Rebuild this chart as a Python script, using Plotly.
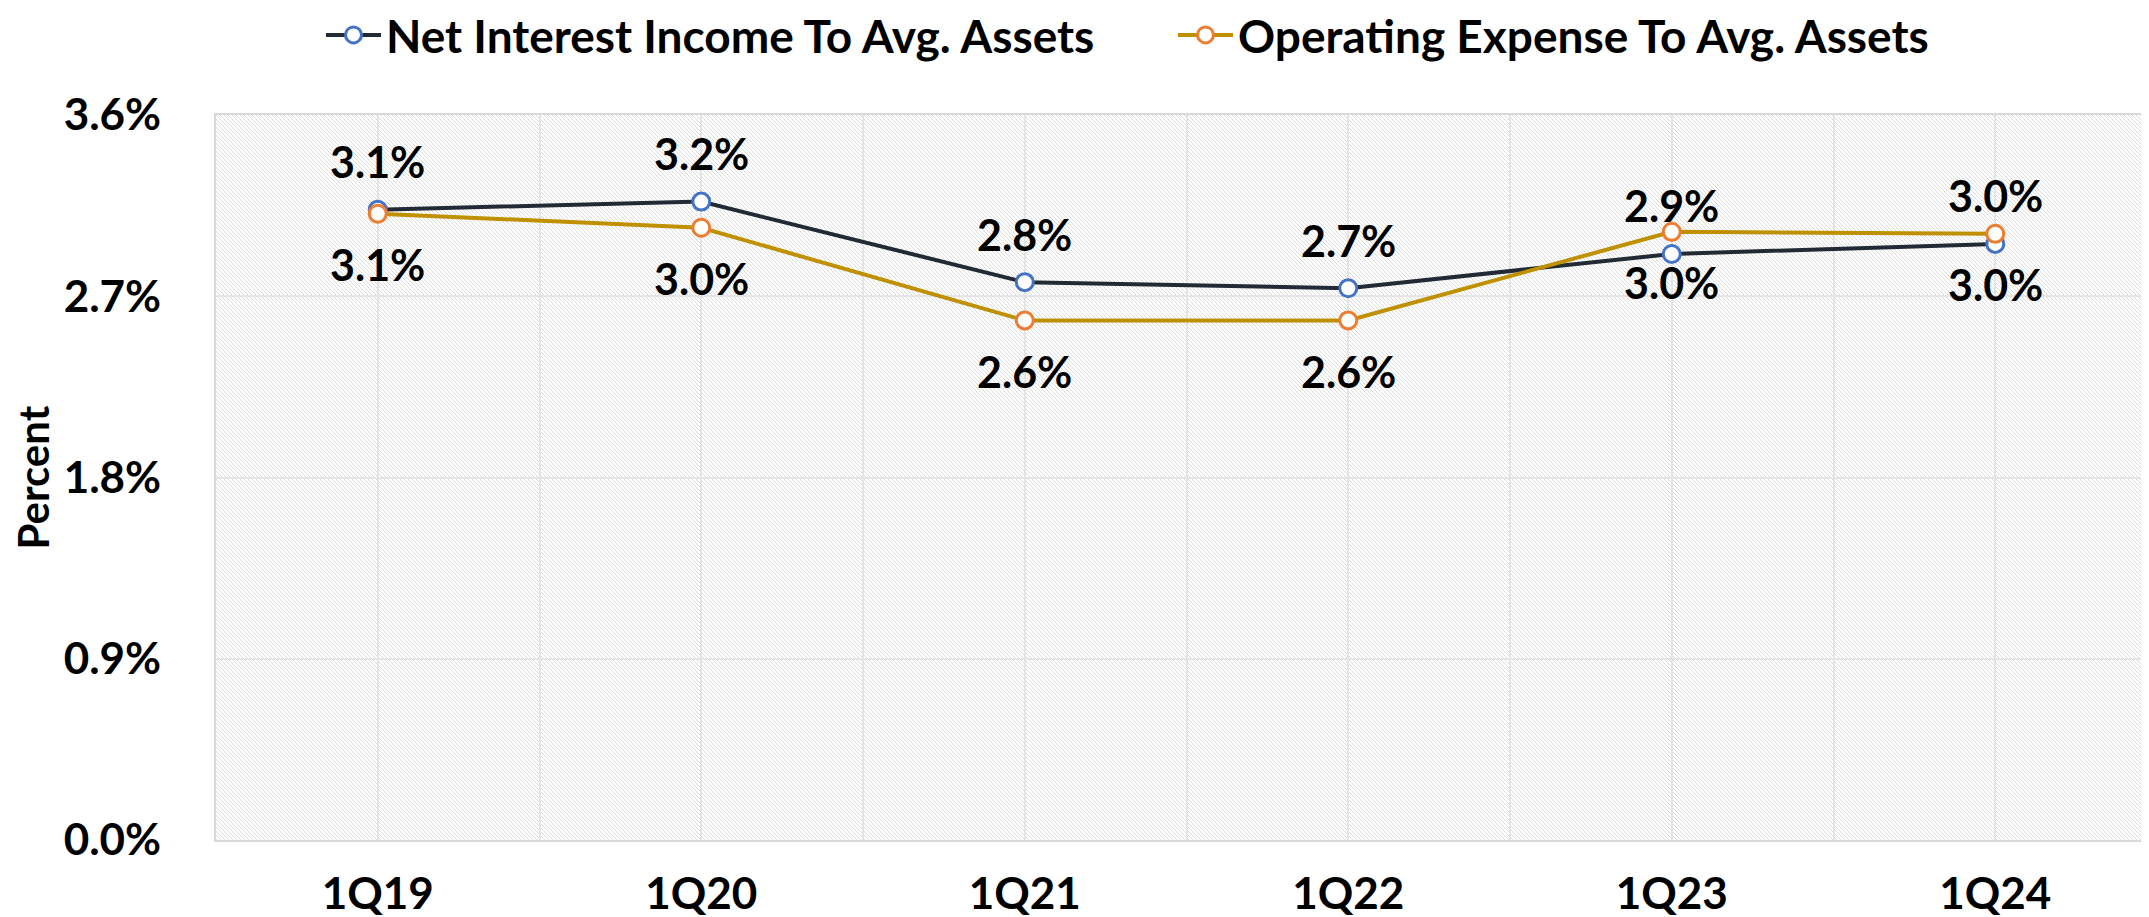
import base64
import plotly.graph_objects as go

# ---- data ----
categories = ["1Q19", "1Q20", "1Q21", "1Q22", "1Q23", "1Q24"]
net_interest_income = [3.13, 3.17, 2.77, 2.74, 2.91, 2.96]
operating_expense = [3.11, 3.04, 2.58, 2.58, 3.02, 3.01]
series_names = ["Net Interest Income To Avg. Assets", "Operating Expense To Avg. Assets"]
y_ticks = [0.0, 0.9, 1.8, 2.7, 3.6]

# ---- layout constants ----
W, H = 2149, 917
ML, MR, MT, MB = 208, 0, 107, 85
PW, PH = W - ML - MR, H - MT - MB
FONT = "Lato"
x_idx = list(range(len(categories)))

# hatch background (light downward diagonal)
HC = "#dcdcdc"
svg = (
    f'<svg xmlns="http://www.w3.org/2000/svg" width="{PW}" height="{PH}" '
    f'viewBox="0 0 {PW} {PH}" shape-rendering="crispEdges">'
    '<defs><pattern id="p" width="4" height="4" patternUnits="userSpaceOnUse">'
    f'<rect x="0" y="0" width="1" height="1" fill="{HC}"/>'
    f'<rect x="1" y="1" width="1" height="1" fill="{HC}"/>'
    f'<rect x="2" y="2" width="1" height="1" fill="{HC}"/>'
    f'<rect x="3" y="3" width="1" height="1" fill="{HC}"/>'
    '</pattern></defs>'
    '<rect x="0" y="0" width="100%" height="100%" fill="#ffffff"/>'
    '<rect x="0" y="0" width="100%" height="100%" fill="url(#p)"/></svg>'
)
svg_uri = "data:image/svg+xml;base64," + base64.b64encode(svg.encode()).decode()

fig = go.Figure()
fig.add_trace(go.Scatter(
    x=x_idx, y=net_interest_income, name=series_names[0], mode="lines+markers",
    line=dict(color="#222A35", width=4),
    marker=dict(symbol="circle", size=17, color="white", line=dict(color="#4472C4", width=3)),
))
fig.add_trace(go.Scatter(
    x=x_idx, y=operating_expense, name=series_names[1], mode="lines+markers",
    line=dict(color="#BF9000", width=4),
    marker=dict(symbol="circle", size=17, color="white", line=dict(color="#ED7D31", width=3)),
))

LBL = dict(family=FONT, size=43, color="black", weight="bold")
annotations = []
for i, v in enumerate(net_interest_income):
    annotations.append(dict(x=i, y=v, xref="x", yref="y", text=f"{v:.1f}%", showarrow=False,
                            yshift=48, font=LBL))
for i, v in enumerate(operating_expense):
    annotations.append(dict(x=i, y=v, xref="x", yref="y", text=f"{v:.1f}%", showarrow=False,
                            yshift=-51, font=LBL))
annotations.append(dict(x=(24 - ML) / PW, y=0.5, xref="paper", yref="paper", text="Percent",
                        textangle=-90, showarrow=False, xanchor="center", yanchor="middle",
                        font=dict(family=FONT, size=42, color="black", weight="bold")))

grid_vals = [i / 2 - 0.5 for i in range(2 * len(categories) + 1)]
grid_text = [categories[int(v)] if float(v).is_integer() else "" for v in grid_vals]
y_text = [f"{v:.1f}%" for v in y_ticks]

TICK = dict(family=FONT, size=44, color="black", weight="bold")

fig.update_layout(
    width=W, height=H,
    margin=dict(l=ML, r=MR, t=MT, b=MB, autoexpand=False),
    paper_bgcolor="white", plot_bgcolor="rgba(0,0,0,0)",
    font=dict(family=FONT, size=40, color="black", weight="bold"),
    showlegend=True,
    legend=dict(orientation="h", x=(313 - ML) / PW, xanchor="left", y=1 + (MT - 27) / PH,
                yanchor="middle", font=dict(family=FONT, size=46, color="black", weight="bold"),
                itemwidth=55, entrywidth=782, bgcolor="rgba(0,0,0,0)", traceorder="normal"),
    images=[dict(source=svg_uri, xref="paper", yref="paper", x=0, y=1, sizex=1, sizey=1,
                 xanchor="left", yanchor="top", sizing="stretch", layer="below")],
    annotations=annotations,
    xaxis=dict(range=[-0.5, len(categories) - 0.5], tickmode="array", tickvals=grid_vals,
               ticktext=grid_text, showgrid=True, gridcolor="#E4E4E4", gridwidth=2,
               zeroline=False, showline=True, linecolor="#D9D9D9", linewidth=2, mirror=True,
               ticks="", ticklabelstandoff=14, tickfont=TICK),
    yaxis=dict(range=[0, 3.6], tickmode="array", tickvals=y_ticks, ticktext=y_text,
               showgrid=True, gridcolor="#E4E4E4", gridwidth=2,
               zeroline=False, showline=True, linecolor="#D9D9D9", linewidth=2, mirror=True,
               ticks="", ticklabelstandoff=44, tickfont=TICK),
)

fig.write_html("out.html")
